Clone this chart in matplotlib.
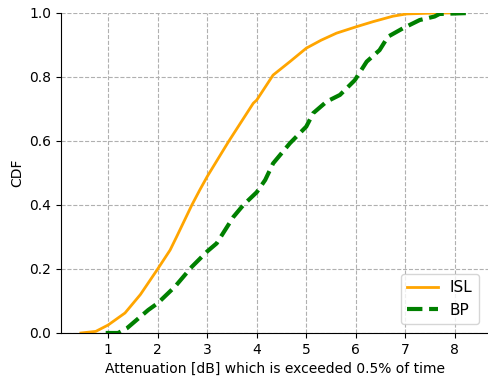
import matplotlib
matplotlib.use("Agg")
import matplotlib.pyplot as plt
import numpy as np

# CDF points
isl_x = [0.45, 0.75, 1.0, 1.34, 1.65, 2.0, 2.25, 2.38, 2.69, 2.85, 3.0, 3.43, 3.93, 4.0, 4.33, 4.67, 5.0, 5.3,
         5.61, 6.01, 6.35, 6.75, 7.02, 7.6, 8.0]
isl_y = [0.0, 0.005, 0.025, 0.0625, 0.12, 0.2, 0.259, 0.30, 0.40, 0.447, 0.489, 0.598, 0.718, 0.728, 0.806, 0.848, 0.89, 0.915,
         0.937, 0.957, 0.973, 0.99, 0.997, 1.0, 1.0]

bp_x = [0.95, 1.2, 1.38, 1.81, 2.0, 2.35, 2.69, 3.0, 3.19, 3.53, 3.73, 4.0, 4.17, 4.33, 4.47, 4.67, 5.0, 5.14, 5.41,
        5.68, 5.98, 6.22, 6.48, 6.65, 6.95, 7.29, 7.59, 7.69, 8.3]
bp_y = [0.0, 0.0, 0.015, 0.072, 0.093, 0.145, 0.207, 0.255, 0.28, 0.363, 0.40, 0.44, 0.478, 0.53, 0.556, 0.593, 0.645, 0.687, 0.723,
        0.744, 0.79, 0.848, 0.884, 0.926, 0.952, 0.978, 0.989, 0.997, 1.0]

fig = plt.figure(figsize=(4.89, 3.79), dpi=100)
ax = fig.add_axes([0.125, 0.1214, 0.873, 0.8443])

ax.plot(isl_x, isl_y, color="orange", linewidth=2, label="ISL")
ax.plot(bp_x, bp_y, color="green", linewidth=3, linestyle="--", label="BP")

ax.set_xlim(0.05, 8.67)
ax.set_ylim(0, 1.0)
ax.set_xticks(range(1, 9))
ax.set_yticks(np.arange(0, 1.01, 0.2))
ax.grid(True, linestyle="--", color="#b0b0b0", linewidth=0.8)
ax.spines["top"].set_visible(False)
ax.spines["right"].set_visible(False)

ax.set_xlabel("Attenuation [dB] which is exceeded 0.5% of time")
ax.set_ylabel("CDF")
ax.legend(loc="lower right", fontsize=11, borderaxespad=0.6)

fig.savefig("out.png", dpi=100)
